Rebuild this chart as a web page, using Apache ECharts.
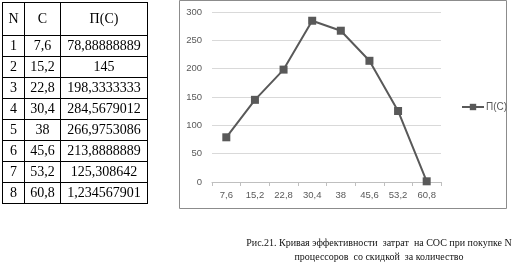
<!DOCTYPE html>
<html><head><meta charset="utf-8">
<script src="https://cdn.jsdelivr.net/npm/echarts@6/dist/echarts.min.js"></script>
<style>
html,body{margin:0;padding:0;background:#fff;width:521px;height:264px;overflow:hidden;}
#chart{position:absolute;left:0;top:0;width:521px;height:264px;}
#tbl{position:absolute;left:2px;top:2px;border-collapse:collapse;font-family:"Liberation Serif","Times New Roman",serif;font-size:14px;color:#000;}
#tbl td{border:1px solid #000;text-align:center;padding:0;height:20px;line-height:14px;}
#tbl tr.h td{height:32px;}
#cap{position:absolute;left:239px;top:236px;width:280px;text-align:center;font-family:"Liberation Serif","Times New Roman",serif;font-size:10px;line-height:14px;color:#111;}
</style></head>
<body>
<div id="chart"></div>
<table id="tbl"></table>
<div id="cap">Рис.21. Кривая эффективности&nbsp; затрат&nbsp; на СОС при покупке N<br>процессоров&nbsp; со скидкой&nbsp; за количество</div>
<script>
const nValues = [1, 2, 3, 4, 5, 6, 7, 8];
const categories = ["7,6", "15,2", "22,8", "30,4", "38", "45,6", "53,2", "60,8"];
const effTable = ["78,88888889", "145", "198,3333333", "284,5679012", "266,9753086", "213,8888889", "125,308642", "1,234567901"];
const effValues = [78.88888889, 145, 198.3333333, 284.5679012, 266.9753086, 213.8888889, 125.308642, 1.234567901];
const yTicks = [0, 50, 100, 150, 200, 250, 300];
const seriesName = "П(С)";
const headers = ["N", "C", "П(С)"];

// table
const tbl = document.getElementById('tbl');
let html = '<colgroup><col style="width:22px"><col style="width:36px"><col style="width:87px"></colgroup>';
html += '<tr class="h">' + headers.map(h => '<td>' + h + '</td>').join('') + '</tr>';
nValues.forEach((n, i) => {
  html += '<tr><td>' + n + '</td><td>' + categories[i] + '</td><td>' + effTable[i] + '</td></tr>';
});
tbl.innerHTML = html;

const chart = echarts.init(document.getElementById('chart'), null, {renderer: 'canvas'});
const gray = '#595959';
const font = 'Liberation Sans, Arial, sans-serif';
chart.setOption({
  animation: false,
  graphic: [{
    type: 'rect', shape: {x: 179.5, y: 0.5, width: 327, height: 208},
    style: {fill: 'none', stroke: '#8c8c8c', lineWidth: 1}, z: -1
  }],
  grid: {left: 212, top: 12, width: 229, height: 170, containLabel: false},
  legend: {
    left: 456, top: 97, itemWidth: 22, itemHeight: 8, itemGap: 2,
    textStyle: {fontFamily: font, fontSize: 10, color: gray, padding: [0, 0, 0, -3]},
    data: [seriesName]
  },
  xAxis: {
    type: 'category', data: categories, boundaryGap: true,
    axisLine: {lineStyle: {color: '#bfbfbf', width: 1}},
    axisTick: {show: true, length: 4, lineStyle: {color: '#bfbfbf'}},
    axisLabel: {fontFamily: font, fontSize: 9.5, color: gray, margin: 8}
  },
  yAxis: {
    type: 'value', min: yTicks[0], max: yTicks[yTicks.length - 1], interval: 50,
    axisLine: {show: false}, axisTick: {show: false},
    splitLine: {lineStyle: {color: '#d9d9d9', width: 1}},
    axisLabel: {fontFamily: font, fontSize: 9.5, color: gray, margin: 10}
  },
  series: [{
    name: seriesName, type: 'line', data: effValues,
    symbol: 'rect', symbolSize: 8, showAllSymbol: true,
    lineStyle: {color: gray, width: 2},
    itemStyle: {color: gray}
  }]
});
</script>
</body></html>
